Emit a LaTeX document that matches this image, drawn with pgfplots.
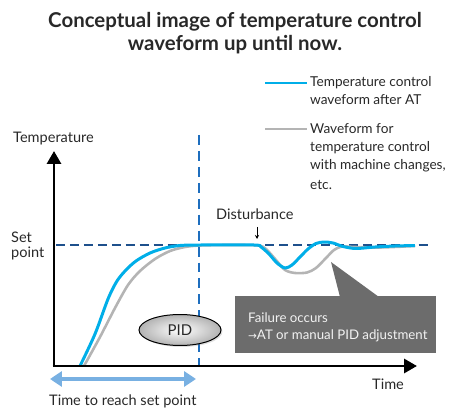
\documentclass[border=0pt]{standalone}
\usepackage{pgfplots}
\pgfplotsset{compat=1.18}
\usepackage{fontspec}
\setmainfont{Lato}
\newfontfamily\symfont{DejaVu Sans}
\usetikzlibrary{arrows.meta,shadows}
\definecolor{cblue}{RGB}{0,174,232}
\definecolor{cgray}{RGB}{180,180,180}
\definecolor{dblue}{RGB}{30,80,140}
\definecolor{vblue}{RGB}{30,110,190}
\definecolor{lblue}{RGB}{120,176,226}
\definecolor{boxgray}{RGB}{108,108,108}
\definecolor{txtgray}{RGB}{40,40,40}
\begin{document}
\begin{tikzpicture}
\begin{axis}[width=449bp,height=410bp,scale only axis,xmin=0,xmax=449,ymin=-410,ymax=0,hide axis,clip=false]
\addplot[draw=none] coordinates {(0,0) (449,-410)};
% title
\node[font=\fontsize{20.5}{22}\selectfont\bfseries,text=txtgray] at (axis cs:235,-22) {Conceptual image of temperature control};
\node[font=\fontsize{20.5}{22}\selectfont\bfseries,text=txtgray] at (axis cs:235,-45) {waveform up until now.};
% legend
\addplot[cblue,line width=3pt] coordinates {(265,-83) (307,-83)};
\addplot[cgray,line width=3pt] coordinates {(265,-129) (307,-129)};
\begin{scope}[every node/.style={anchor=west,inner sep=0pt,font=\fontsize{13.7}{16}\selectfont,text=txtgray}]
\node at (axis cs:310,-83) {Temperature control};
\node at (axis cs:310,-100) {waveform after AT};
\node at (axis cs:310,-129) {Waveform for};
\node at (axis cs:310,-148) {temperature control};
\node at (axis cs:310,-166) {with machine changes,};
\node at (axis cs:310,-185) {etc.};
\end{scope}
\begin{scope}[every node/.style={anchor=west,inner sep=0pt,font=\fontsize{14.6}{16}\selectfont,text=txtgray}]
\node at (axis cs:13,-139) {Temperature};
\node at (axis cs:11,-237) {Set};
\node at (axis cs:11,-253) {point};
\node at (axis cs:372,-384) {Time};
\node at (axis cs:49,-401) {Time to reach set point};
\node at (axis cs:216,-214) {Disturbance};
\end{scope}
% set point dashed
\addplot[dblue,line width=1.4pt,dash pattern=on 9pt off 5pt] coordinates {(56,-245) (430,-245)};
% vertical dashed
\addplot[vblue,line width=1.4pt,dash pattern=on 10pt off 6pt] coordinates {(199,-135) (199,-366)};
% disturbance arrow
\draw[-{Stealth[length=4pt,width=4pt]},line width=0.8pt,black] (axis cs:257,-227) -- (axis cs:257,-239);
% gray curve
\addplot[cgray,line width=2.6pt,smooth,tension=0.5] coordinates {
(84,-366) (100,-337) (115,-308) (128,-285) (140,-271) (155,-259) (170,-251) (185,-247) (200,-245.5) (230,-245) (258,-245.5)
(266,-249) (276,-260) (285,-270) (295,-273) (307,-272.5) (316,-268) (326,-258) (334,-250) (342,-246.5) (355,-247) (380,-247.5) (415,-246)};
% blue curve
\addplot[cblue,line width=3pt,smooth,tension=0.5] coordinates {
(80,-366) (95,-334) (108,-299) (117,-281) (126,-270) (136,-261) (150,-253) (165,-248) (180,-245.5) (200,-245) (254,-245)
(261,-247) (269,-254) (277,-263) (285,-268) (292,-265) (300,-257) (308,-249) (316,-243.5) (324,-242) (333,-243) (343,-246.5) (356,-248.5) (375,-247) (395,-246) (415,-245.5)};
% axes
\draw[line width=3pt,-{Triangle[length=13pt,width=14pt]}] (axis cs:54,-366) -- (axis cs:54,-151);
\draw[line width=3pt,-{Triangle[length=13pt,width=14pt]}] (axis cs:52.5,-366) -- (axis cs:417,-366);
% double arrow
\draw[lblue,line width=5pt,{Triangle[length=12pt,width=15pt]}-{Triangle[length=12pt,width=15pt]}] (axis cs:50,-379) -- (axis cs:196,-379);
% PID ellipse
\shade[inner color=white,outer color=gray!60,draw=black,line width=1pt,drop shadow={opacity=0.25,shadow xshift=1.5pt,shadow yshift=-1.5pt}] (axis cs:180,-330) ellipse [x radius=41bp,y radius=15.5bp];
\node[font=\fontsize{15}{16}\selectfont,text=txtgray] at (axis cs:180,-330) {PID};
% callout box
\fill[boxgray] (axis cs:331,-262) -- (axis cs:340,-297) -- (axis cs:379,-297) -- cycle;
\fill[boxgray] (axis cs:235,-296) rectangle (axis cs:436,-353);
\begin{scope}[every node/.style={anchor=west,inner sep=0pt,font=\fontsize{13.3}{15}\selectfont,text=white!90!gray}]
\node at (axis cs:248,-318) {Failure occurs};
\node at (axis cs:248,-336) {{\symfont\fontsize{10.5}{12}\selectfont →}AT or manual PID adjustment};
\end{scope}
\end{axis}
\pgfresetboundingbox
\path[use as bounding box] (0,0) rectangle (449bp,410bp);
\end{tikzpicture}
\end{document}
